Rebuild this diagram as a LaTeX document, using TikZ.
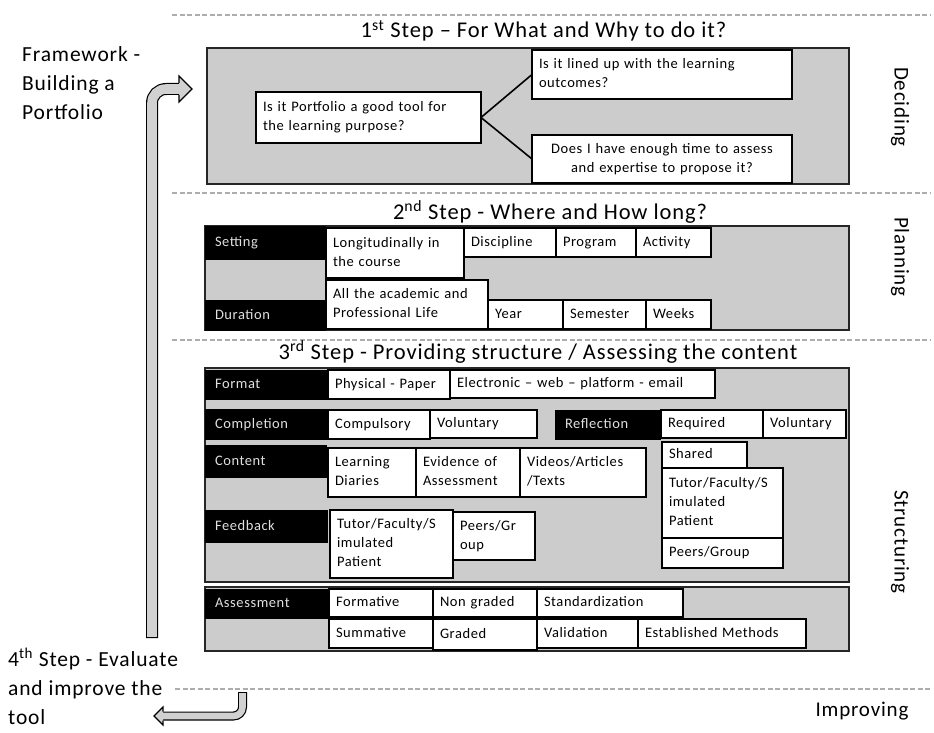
\documentclass[tikz,border=0pt]{standalone}
\usepackage{fontspec}
\setmainfont{Carlito}[LetterSpace=4]
\definecolor{boxgray}{gray}{0.8}
\definecolor{dashgray}{gray}{0.68}
\definecolor{arrowgray}{gray}{0.82}
\tikzset{
	stage/.style={draw=black!85, line width=1.3pt, fill=boxgray},
	cell/.style 2 args={draw=black, line width=2.2pt, fill=white, anchor=north west, outer sep=0pt, inner xsep=7pt, inner ysep=1pt, minimum width=#1pt, minimum height=#2pt, text width=#1pt-14pt, align=left, font=\fontsize{14.5}{19}\selectfont, execute at begin node=\strut, execute at end node=\strut},
	tag/.style 2 args={fill=black, text=black!12, anchor=north west, outer sep=0pt, inner xsep=10pt, inner ysep=1pt, minimum width=#1pt, minimum height=#2pt, text width=#1pt-20pt, align=left, font=\fontsize{14.5}{19}\selectfont, execute at begin node=\strut, execute at end node=\strut},
	sep/.style={draw=dashgray, line width=2pt, dash pattern=on 5pt off 2.5pt},
	title/.style={anchor=base, font=\fontsize{22.5}{26}\selectfont},
	side/.style={rotate=-90, font=\fontsize{21}{24}\selectfont},
	note/.style={anchor=north west, inner sep=0pt, align=left, font=\fontsize{21.5}{29}\selectfont},
}
\begin{document}
\begin{tikzpicture}[x=1pt, y=-1pt]
		\useasboundingbox (0,0) rectangle (934,733);
		\draw[sep] (172,15) -- (930,15);
		\draw[sep] (172,193) -- (930,193);
		\draw[sep] (172,340) -- (930,340);
		\draw[sep] (175,689) -- (930,689);
		\node[note] (framework) at (22,46) {Framework -\\Building a\\Portfolio};
		\node[note] (evaluate) at (8,648) {4\textsuperscript{th} Step - Evaluate\\and improve the\\tool};
		\node[side] (deciding) at (900,107) {Deciding};
		\node[side] (planning) at (900,257) {Planning};
		\node[side] (structuring) at (900,542) {Structuring};
		\node[font=\fontsize{21}{24}\selectfont] (improving) at (862,711) {Improving};
		\draw[line width=12pt, rounded corners=14pt] (152,638) -- (152,89) -- (180,89);
		\draw[line width=9.6pt, rounded corners=14pt, arrowgray] (152,636.8) -- (152,89) -- (180,89);
		\filldraw[fill=arrowgray, line width=1.2pt] (179,83) -- (179,76) -- (192,89) -- (179,102) -- (179,95);
		\draw[line width=9pt, rounded corners=9pt] (242.5,692) -- (242.5,716) -- (162,716);
		\draw[line width=6.6pt, rounded corners=9pt, arrowgray] (242.5,693.2) -- (242.5,716) -- (162,716);
		\filldraw[fill=arrowgray, line width=1.2pt] (163,711.5) -- (163,707) -- (154,716) -- (163,725) -- (163,720.5);
		\node[title] (first) at (543.5,38) {1\textsuperscript{st} Step -- For What and Why to do it?};
		\filldraw[stage] (207,48) rectangle (849,184);
		\node[cell={225}{51}] (purpose) at (256,92) {Is it Portfolio a good tool for\\the learning purpose?};
		\node[cell={260}{49}] (lined) at (532,50) {Is it lined up with the learning\\outcomes?};
		\node[cell={260}{48}, align=center] (time) at (532,135) {Does I have enough time to assess\\and expertise to propose it?};
		\draw[line width=1.6pt] (purpose.east) -- (lined.west);
		\draw[line width=1.6pt] (purpose.east) -- (time.west);
		\node[title] (second) at (550,219) {2\textsuperscript{nd} Step - Where and How long?};
		\filldraw[stage] (205,226) rectangle (849,330);
		\node[tag={121}{34}] (setting) at (205,226) {Setting};
		\node[tag={121}{31}] (duration) at (205,300) {Duration};
		\node[cell={138}{50}] (longi) at (326,228) {Longitudinally in\\the course};
		\node[cell={92}{29}] (discipline) at (464,228) {Discipline};
		\node[cell={80}{29}] (program) at (556,228) {Program};
		\node[cell={75}{29}] (activity) at (636,228) {Activity};
		\node[cell={162}{49}] (life) at (326,280) {All the academic and\\Professional Life};
		\node[cell={75}{29}] (year) at (488,300) {Year};
		\node[cell={83}{29}] (semester) at (563,300) {Semester};
		\node[cell={65}{29}] (weeks) at (646,300) {Weeks};
		\node[title] (third) at (538,359) {3\textsuperscript{rd} Step - Providing structure / Assessing the content};
		\filldraw[stage] (205,368) rectangle (849,582);
		\node[tag={123}{30}] (format) at (205,370) {Format};
		\node[cell={122}{29}] (paper) at (328,370) {Physical - Paper};
		\node[cell={265}{28}] (electronic) at (450,370) {Electronic -- web -- platform - email};
		\node[tag={123}{31}] (completion) at (205,409) {Completion};
		\node[cell={102}{29}] (compulsory) at (328,410) {Compulsory};
		\node[cell={107}{28}] (voluntary) at (430,410) {Voluntary};
		\node[tag={106}{30}] (reflection) at (555,410) {Reflection};
		\node[cell={102}{28}] (required) at (661,410) {Required};
		\node[cell={83}{28}] (optional) at (763,410) {Voluntary};
		\node[tag={122}{33}] (content) at (205,445) {Content};
		\node[cell={88}{49}] (diaries) at (328,448) {Learning\\Diaries};
		\node[cell={104}{49}] (evidence) at (416,448) {Evidence of\\Assessment};
		\node[cell={126}{49}] (videos) at (520,448) {Videos/Articles\\/Texts};
		\node[cell={85}{26}] (shared) at (662,442) {Shared};
		\node[cell={121}{70}] (tutorshared) at (662,468) {Tutor/Faculty/S\\imulated\\Patient};
		\node[cell={121}{30}] (peersshared) at (662,538) {Peers/Group};
		\node[tag={123}{33}] (feedback) at (205,510) {Feedback};
		\node[cell={123}{68}] (tutor) at (330,510) {Tutor/Faculty/S\\imulated\\Patient};
		\node[cell={82}{48}] (peers) at (453,512) {Peers/Gr\\oup};
		\filldraw[stage] (205,587) rectangle (849,651);
		\node[tag={124}{30}] (assessment) at (205,589) {Assessment};
		\node[cell={104}{28}] (formative) at (329,589) {Formative};
		\node[cell={104}{28}] (nongraded) at (433,589) {Non graded};
		\node[cell={146}{28}] (standard) at (537,589) {Standardization};
		\node[cell={104}{29}] (summative) at (329,619) {Summative};
		\node[cell={104}{31}] (graded) at (433,619) {Graded};
		\node[cell={101}{29}] (validation) at (537,619) {Validation};
		\node[cell={168}{29}] (established) at (638,619) {Established Methods};
	\end{tikzpicture}
\end{document}
